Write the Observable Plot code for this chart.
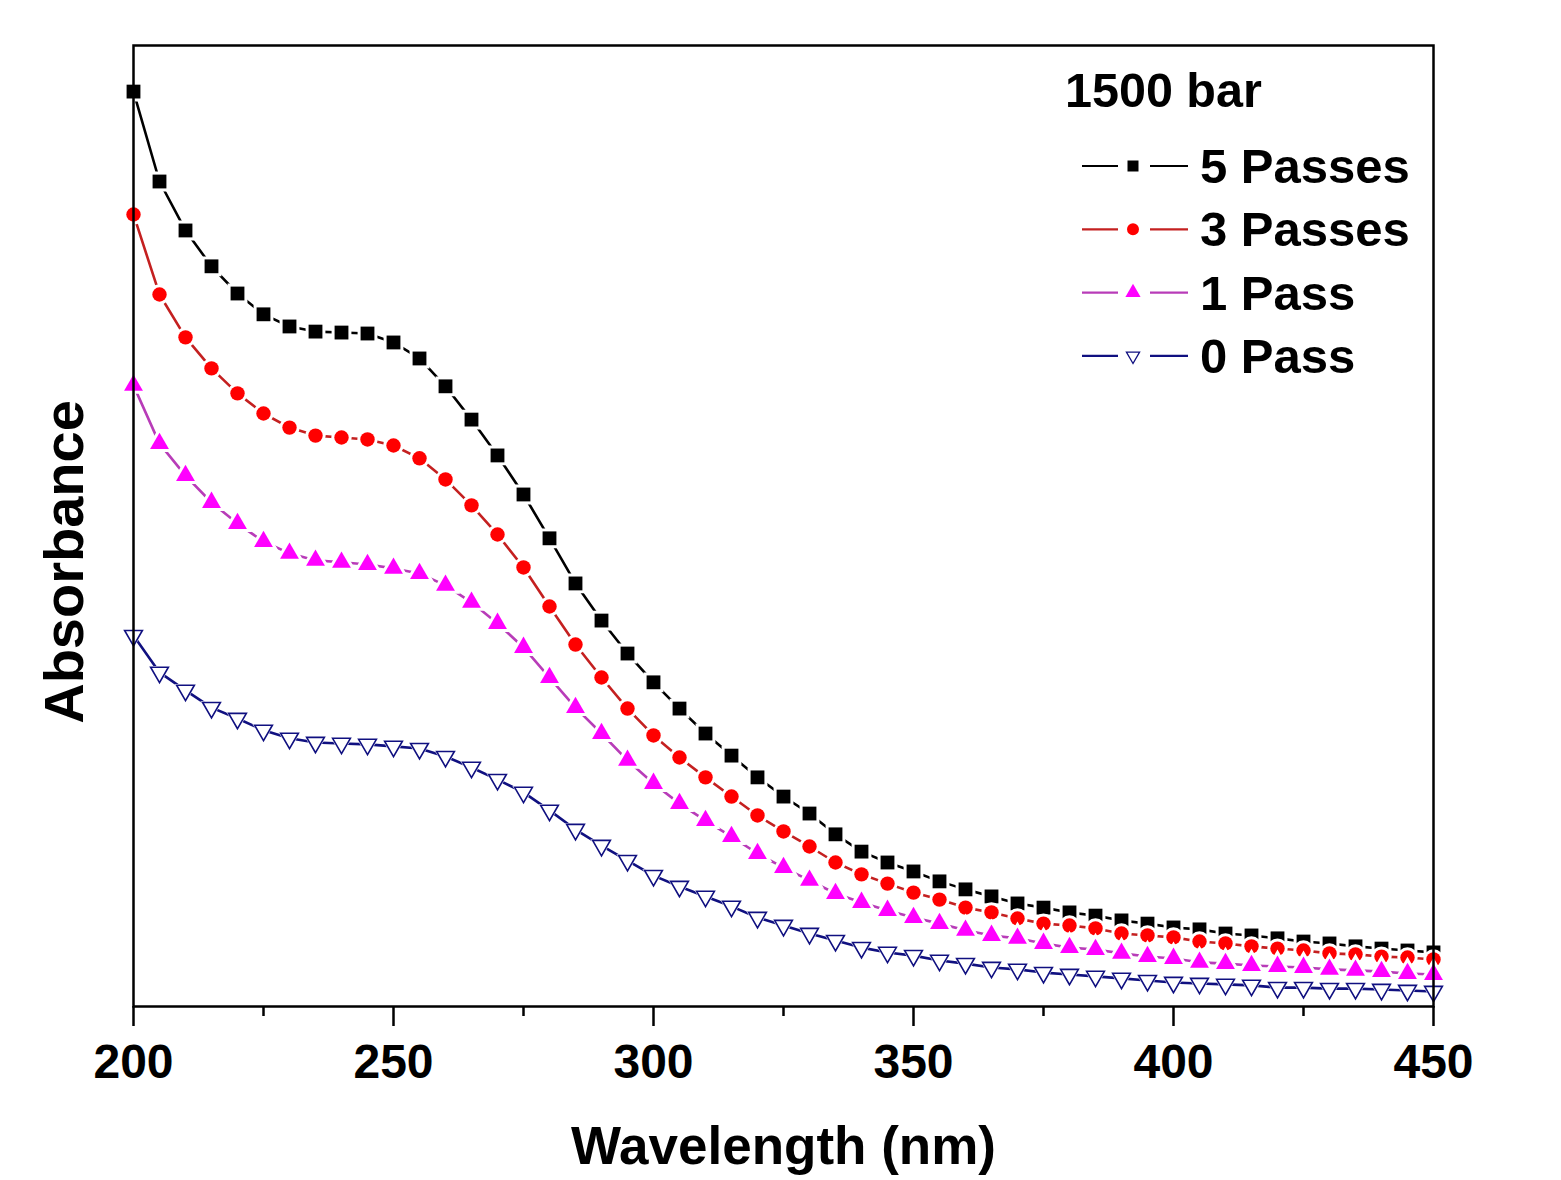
<!DOCTYPE html>
<html><head><meta charset="utf-8">
<script src="https://cdn.jsdelivr.net/npm/d3@7"></script>
<script src="https://cdn.jsdelivr.net/npm/@observablehq/plot@0.6"></script>
<style>
body{margin:0;background:#fff}
#chart{position:relative;width:1561px;height:1180px}
</style>
</head><body><div id="chart"></div>
<script>
// ---- data ----
const wavelength = [200,205,210,215,220,225,230,235,240,245,250,255,260,265,270,275,280,285,290,295,300,305,310,315,320,325,330,335,340,345,350,355,360,365,370,375,380,385,390,395,400,405,410,415,420,425,430,435,440,445,450];
const passes5 = [2.859,2.578,2.425,2.313,2.228,2.163,2.125,2.109,2.106,2.103,2.075,2.025,1.938,1.834,1.722,1.600,1.463,1.322,1.206,1.103,1.013,0.931,0.853,0.784,0.716,0.656,0.603,0.538,0.484,0.450,0.422,0.391,0.366,0.344,0.322,0.309,0.294,0.284,0.269,0.259,0.247,0.241,0.228,0.222,0.213,0.203,0.197,0.188,0.181,0.175,0.169];
const passes3 = [2.475,2.225,2.091,1.994,1.916,1.853,1.809,1.784,1.778,1.772,1.753,1.713,1.647,1.566,1.475,1.372,1.250,1.131,1.028,0.931,0.847,0.778,0.716,0.656,0.597,0.547,0.500,0.450,0.413,0.384,0.356,0.334,0.309,0.294,0.275,0.259,0.253,0.244,0.228,0.222,0.216,0.203,0.197,0.188,0.181,0.175,0.166,0.163,0.156,0.153,0.147];
const pass1 = [1.941,1.759,1.659,1.575,1.509,1.453,1.416,1.394,1.388,1.381,1.369,1.353,1.316,1.263,1.197,1.122,1.028,0.934,0.853,0.769,0.697,0.634,0.581,0.531,0.478,0.434,0.394,0.353,0.325,0.300,0.278,0.259,0.238,0.222,0.213,0.197,0.184,0.178,0.166,0.156,0.150,0.138,0.134,0.128,0.125,0.122,0.116,0.113,0.109,0.103,0.100];
const pass0 = [1.159,1.044,0.988,0.934,0.900,0.863,0.838,0.825,0.822,0.819,0.813,0.806,0.781,0.747,0.709,0.669,0.613,0.553,0.503,0.456,0.409,0.375,0.344,0.313,0.278,0.253,0.228,0.206,0.184,0.169,0.159,0.144,0.134,0.122,0.116,0.106,0.100,0.094,0.088,0.081,0.075,0.072,0.069,0.066,0.059,0.059,0.056,0.056,0.053,0.050,0.047];
const seriesNames = ["5 Passes","3 Passes","1 Pass","0 Pass"];
const majorTicks = [200,250,300,350,400,450];
const minorTicks = [225,275,325,375,425];
const legendTitle = "1500 bar";
const xLabel = "Wavelength (nm)";
const yLabel = "Absorbance";

// ---- styles ----
const FONT = "'Liberation Sans', Arial, Helvetica, sans-serif";
const series = [
  {name: seriesNames[0], values: passes5, line: "#000000", fill: "#000000", mstroke: "none", symbol: "square", d3sym: d3.symbolSquare, r: 7.8, rot: 0, lsize: 121},
  {name: seriesNames[1], values: passes3, line: "#c42020", fill: "#ff0000", mstroke: "none", symbol: "circle", d3sym: d3.symbolCircle, r: 7.2, rot: 0, lsize: 113},
  {name: seriesNames[2], values: pass1, line: "#b83cb8", fill: "#ff00ff", mstroke: "none", symbol: "triangle", d3sym: d3.symbolTriangle, r: 7, rot: 0, lsize: 100},
  {name: seriesNames[3], values: pass0, line: "#101080", fill: "#ffffff", mstroke: "#101080", symbol: "triangle", d3sym: d3.symbolTriangle, r: 6.6, rot: 180, lsize: 75}
];

const marks = [];
for (const s of series) {
  const rows = s.values.map((v, i) => ({x: wavelength[i], y: v}));
  marks.push(Plot.line(rows, {x: "x", y: "y", stroke: s.line, strokeWidth: 2.6}));
  if (s.mstroke === "none") {
    marks.push(Plot.dot(rows, {x: "x", y: "y", symbol: s.symbol, r: s.r, rotate: s.rot, fill: s.fill, stroke: "white", strokeWidth: 6, paintOrder: "stroke"}));
  } else {
    marks.push(Plot.dot(rows, {x: "x", y: "y", symbol: s.symbol, r: s.r + 1.6, rotate: s.rot, fill: "white", stroke: "none"}));
    marks.push(Plot.dot(rows, {x: "x", y: "y", symbol: s.symbol, r: s.r, rotate: s.rot, fill: "white", stroke: s.mstroke, strokeWidth: 1.6}));
  }
}

const plot = Plot.plot({
  width: 1561,
  height: 1180,
  marginLeft: 133,
  marginRight: 128,
  marginTop: 45,
  marginBottom: 174,
  style: {fontFamily: FONT, fontWeight: "bold", background: "white", color: "black"},
  x: {domain: [200, 450], axis: null},
  y: {domain: [0, 3.003], axis: null},
  marks: [
    ...marks,
    Plot.frame({stroke: "black", strokeWidth: 2.5}),
    Plot.axisX({ticks: majorTicks, tickSize: 20, tickPadding: 17, fontSize: 48, fontWeight: "bold", strokeWidth: 2.5, label: null, tickFormat: d => String(d)}),
    Plot.axisX({ticks: minorTicks, tickSize: 10, strokeWidth: 2.5, label: null, tickFormat: () => ""}),
    Plot.text([yLabel], {text: d => d, frameAnchor: "left", textAnchor: "middle", lineAnchor: "middle", dx: -68, dy: 36, rotate: -90, fontSize: 56, fontWeight: "bold"}),
    Plot.text([xLabel], {text: d => d, frameAnchor: "bottom", textAnchor: "middle", lineAnchor: "middle", dy: 141, fontSize: 53, fontWeight: "bold"})
  ]
});
document.getElementById("chart").appendChild(plot);

// ---- legend ----
const svg = d3.select(plot);
const lg = svg.append("g").attr("font-family", FONT).attr("font-weight", "bold").attr("fill", "black").attr("text-anchor", "start");
lg.append("text").attr("x", 1065).attr("y", 107).attr("font-size", 48.5).attr("text-anchor", "start").text(legendTitle);
series.forEach((s, i) => {
  const cy = 166 + i * 63.3;
  lg.append("line").attr("x1", 1082).attr("x2", 1118).attr("y1", cy).attr("y2", cy).attr("stroke", s.line).attr("stroke-width", 2.2);
  lg.append("line").attr("x1", 1150).attr("x2", 1188).attr("y1", cy).attr("y2", cy).attr("stroke", s.line).attr("stroke-width", 2.2);
  lg.append("path")
    .attr("d", d3.symbol(s.d3sym, s.lsize)())
    .attr("transform", `translate(1133,${cy}) rotate(${s.rot})`)
    .attr("fill", s.fill)
    .attr("stroke", s.mstroke === "none" ? "none" : s.mstroke)
    .attr("stroke-width", 1.3);
  lg.append("text").attr("x", 1200).attr("y", cy + 17).attr("font-size", 49).attr("text-anchor", "start").text(s.name);
});
</script>
</body></html>
